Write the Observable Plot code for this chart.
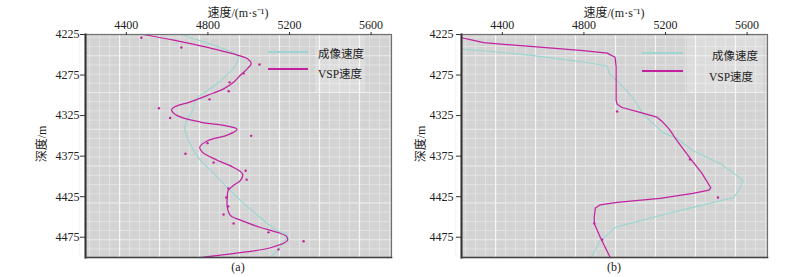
<!DOCTYPE html>
<html>
<head>
<meta charset="utf-8">
<script src="https://cdn.jsdelivr.net/npm/d3@7"></script>
<script src="https://cdn.jsdelivr.net/npm/@observablehq/plot@0.6"></script>
<style>
  html, body { margin: 0; padding: 0; background: #fff; }
  #root { position: relative; width: 804px; height: 277px; overflow: hidden;
          font-family: "Liberation Serif", "Noto Sans CJK SC", serif; color: #222; }
  #root svg text { font-family: "Liberation Serif", "DejaVu Serif", serif !important; font-size: 12px; }
  .abs { position: absolute; white-space: nowrap; }
  .t { font-size: 12px; transform: translate(-50%, -50%); }
  .leg { font-size: 11.5px; transform: translateY(-50%); }
  .yl { font-size: 12px; transform: translate(-50%, -50%) rotate(-90deg); }
</style>
</head>
<body>
<div id="root"></div>
<script>
// ---------- data ----------
const seriesNames = ["成像速度", "VSP速度"];
const xTickValues = [4400, 4800, 5200, 5600];
const yTickValues = [4225, 4275, 4325, 4375, 4425, 4475];
const xTitle = "速度/(m·s⁻¹)";
const yTitle = "深度/m";
const panelLabels = ["(a)", "(b)"];

// Panel (a)
const aImgDepth = [4225,4235,4243,4253,4266,4282,4294,4303,4319,4335,4343,4356,4380,4396,4415,4433,4451,4467,4472,4483,4494,4500];
const aImgVel   = [4670,4790,4880,4950,4926,4862,4798,4749,4724,4690,4688,4705,4763,4828,4900,4975,5058,5140,5190,5165,5130,5102];
const aVspDepth = [4225,4232,4241,4249,4255,4261,4267,4275,4284,4292,4300,4308,4315,4318,4325,4333,4338,4342,4349,4356,4364,4370,4380,4389,4397,4405,4411,4417,4425,4438,4448,4454,4463,4469,4474,4479,4488,4494,4500];
const aVspVel   = [4484,4632,4798,4926,4994,5012,4994,4960,4926,4877,4798,4714,4632,4622,4650,4763,4895,4943,4895,4798,4760,4773,4846,4926,4970,4960,4926,4900,4895,4895,4910,4960,5058,5140,5185,5190,5107,4960,4764];
const aPtDepth  = [4229,4241,4262,4273,4284,4295,4305,4316,4328,4350,4359,4372,4383,4393,4404,4415,4426,4437,4447,4458,4469,4480,4490];
const aPtVel    = [4474,4670,5053,4975,4906,4902,4808,4560,4615,5012,4798,4690,4828,4985,4990,4900,4890,4900,4877,4926,5097,5269,5146];

// Panel (b)
const bImgDepth = [4243,4245,4251,4259,4263,4264,4273,4282,4303,4323,4335,4346,4353,4368,4384,4395,4405,4415,4426,4436,4446,4457,4463,4469,4479,4500];
const bImgVel   = [4200,4308,4552,4797,4895,4914,4924,4963,5041,5090,5139,5188,5256,5334,5466,5530,5579,5564,5535,5369,5207,5041,4953,4929,4880,4836];
const bVspDepth = [4229,4232,4235,4240,4245,4248,4253,4265,4286,4306,4311,4315,4321,4327,4333,4343,4356,4379,4396,4414,4417,4421,4427,4432,4435,4439,4450,4458,4475,4500];
const bVspVel   = [4200,4254,4308,4552,4797,4914,4953,4958,4958,4958,4963,4987,5075,5158,5187,5222,5256,5325,5378,5422,5413,5334,5173,4963,4880,4856,4851,4851,4880,4929];
const bPtDepth  = [4320,4379,4426,4458,4478];
const bPtVel    = [4963,5320,5457,4851,4890];

// ---------- styling ----------
const C_IMG = "#9bd6d1";
const C_VSP = "#c2229f";
const xDomain = [4200, 5700];
const yDomain = [4500, 4225];
const minorX = d3.range(4171, 5700, 49);
const majorX = d3.range(4171, 5700, 196);
const minorY = d3.range(4228.4, 4500, 11.35);
const majorY = d3.range(4228.4 + 11.35*2, 4500, 45.4);
const fmt = d3.format("d");

const zip = (ds, vs) => ds.map((d, i) => ({d, v: vs[i]}));

function panel(opts) {
  const {width, mL, mR, img, vsp, pts, curve, tickPad} = opts;
  return Plot.plot({
    width, height: 260,
    marginLeft: mL, marginRight: mR, marginTop: 34, marginBottom: 3,
    style: {background: "transparent", fontFamily: "Liberation Serif, serif", fontSize: "12px", color: "#222"},
    x: {domain: xDomain, axis: null},
    y: {domain: yDomain, axis: null},
    marks: [
      Plot.frame({fill: "#d3d3d3", stroke: "none"}),
      Plot.gridX(minorX, {stroke: "#e2e2e2", strokeOpacity: 1, strokeWidth: 1}),
      Plot.gridY(minorY, {stroke: "#e2e2e2", strokeOpacity: 1, strokeWidth: 1}),
      Plot.gridY(majorY, {stroke: "#e9e9e9", strokeOpacity: 1, strokeWidth: 1}),
      Plot.gridX(majorX, {stroke: "#f5f5f5", strokeOpacity: 1, strokeWidth: 1.2}),
      Plot.line(img, {x: "v", y: "d", stroke: C_IMG, strokeWidth: 1.1, curve}),
      Plot.line(vsp, {x: "v", y: "d", stroke: C_VSP, strokeWidth: 1.25, curve}),
      Plot.dot(pts, {x: "v", y: "d", r: 1.2, fill: C_VSP, stroke: "none"}),
      Plot.frame({stroke: "#707070", strokeWidth: 1.2}),
      Plot.frame({anchor: "left", stroke: "#333", strokeWidth: 2}),
      Plot.frame({anchor: "bottom", stroke: "#444", strokeWidth: 1.6}),
      Plot.axisX(xTickValues, {anchor: "top", tickSize: 3, tickPadding: 3, label: null, tickFormat: fmt, stroke: "#333", fill: "#222"}),
      Plot.axisY(yTickValues, {anchor: "left", tickSize: 5, tickPadding: tickPad, label: null, tickFormat: fmt, stroke: "#333", fill: "#222"})
    ]
  });
}

const root = document.getElementById("root");
function place(el, left, top) {
  const w = document.createElement("div");
  w.className = "abs";
  w.style.left = left + "px"; w.style.top = top + "px";
  w.appendChild(el);
  root.appendChild(w);
}
function text(str, cls, x, y) {
  const d = document.createElement("div");
  d.className = "abs " + cls;
  d.style.left = x + "px"; d.style.top = y + "px";
  d.textContent = str;
  root.appendChild(d);
}
function box(x, y, w, h, bg) {
  const d = document.createElement("div");
  d.className = "abs";
  Object.assign(d.style, {left: x + "px", top: y + "px", width: w + "px", height: h + "px", background: bg});
  root.appendChild(d);
}
function legendLine(x1, x2, y, color, w) {
  const d = document.createElement("div");
  d.className = "abs";
  Object.assign(d.style, {left: x1 + "px", top: (y - w/2) + "px", width: (x2 - x1) + "px", height: w + "px", background: color});
  root.appendChild(d);
}

place(panel({width: 400, mL: 85, mR: 9, curve: "catmull-rom", tickPad: 1,
  img: zip(aImgDepth, aImgVel), vsp: zip(aVspDepth, aVspVel), pts: zip(aPtDepth, aPtVel)}), 0, 0);
place(panel({width: 404, mL: 61, mR: 37, curve: "linear", tickPad: 3,
  img: zip(bImgDepth, bImgVel), vsp: zip(bVspDepth, bVspVel), pts: zip(bPtDepth, bPtVel)}), 400, 0);

// titles & captions
text(xTitle, "t", 238, 12);
text(xTitle, "t", 614, 12);
text(yTitle, "yl", 41, 144);
text(yTitle, "yl", 420, 144);
text(panelLabels[0], "t", 238, 267);
text(panelLabels[1], "t", 614, 267);

// legends
box(315, 36, 50, 57, "rgba(255,255,255,0.22)");
legendLine(268, 308, 52, C_IMG, 1.1);
legendLine(268, 308, 69, C_VSP, 1.3);
text(seriesNames[0], "leg", 318, 53);
text(seriesNames[1], "leg", 318, 73);

box(687, 36, 76, 57, "rgba(255,255,255,0.22)");
legendLine(642, 683, 53, C_IMG, 1.1);
legendLine(642, 683, 71, C_VSP, 1.3);
text(seriesNames[0], "leg", 712, 55);
text(seriesNames[1], "leg", 709, 76);
</script>
</body>
</html>
